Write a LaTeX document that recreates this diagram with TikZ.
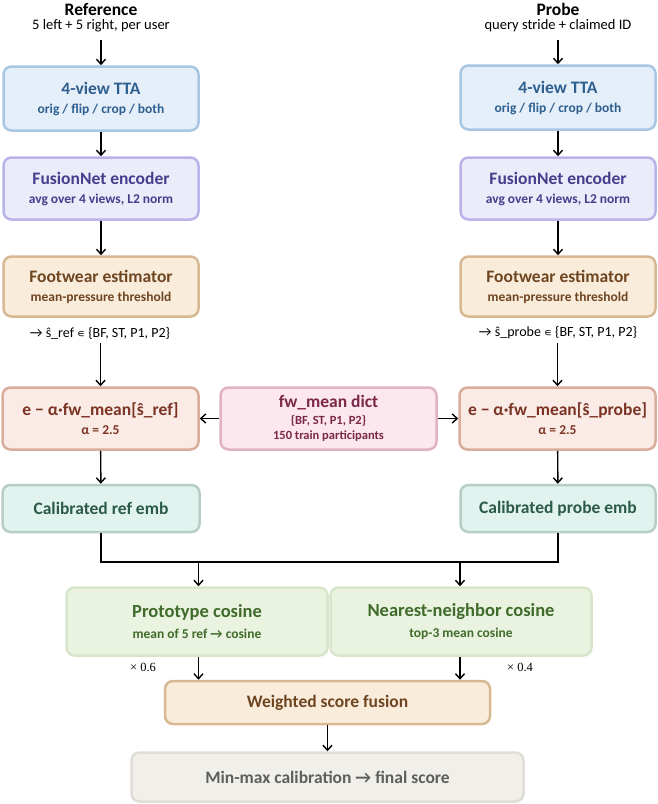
\documentclass[tikz,border=0pt]{standalone}
\usepackage{fontspec}
\setmainfont{Carlito}
\newfontfamily\symf{DejaVu Sans}
\newfontfamily\serf{Liberation Serif}
\usetikzlibrary{arrows.meta}
\definecolor{ttaF}{HTML}{E5EFFA}\definecolor{ttaD}{HTML}{A9C6E3}\definecolor{ttaT}{HTML}{2E5F8F}
\definecolor{fnF}{HTML}{ECEBFA}\definecolor{fnD}{HTML}{B8B3E8}\definecolor{fnT}{HTML}{463D8C}
\definecolor{fwF}{HTML}{FAECDA}\definecolor{fwD}{HTML}{D6B893}\definecolor{fwT}{HTML}{6E4521}
\definecolor{eaF}{HTML}{FAEBE6}\definecolor{eaD}{HTML}{D9AC9C}\definecolor{eaT}{HTML}{7B3424}
\definecolor{dmF}{HTML}{FBE7ED}\definecolor{dmD}{HTML}{E0B3C4}\definecolor{dmT}{HTML}{7B2747}
\definecolor{caF}{HTML}{E1F3EF}\definecolor{caD}{HTML}{B7CEC6}\definecolor{caT}{HTML}{2C5A48}
\definecolor{prF}{HTML}{EAF3E0}\definecolor{prD}{HTML}{D7E6CA}\definecolor{prT}{HTML}{3F6B2B}
\definecolor{mmF}{HTML}{F1EFE9}\definecolor{mmD}{HTML}{DFDDD6}\definecolor{mmT}{HTML}{5E5E5E}
\newcommand{\subf}{\fontsize{13.5}{16}\selectfont\bfseries}
\newcommand{\smf}{\fontsize{12.5}{15}\selectfont\bfseries}
\tikzset{
  box/.style={rounded corners=8pt, line width=2.5pt, align=center, inner sep=0pt,
    font=\fontsize{17.5}{19}\selectfont\bfseries},
  arr/.style={line width=1.4pt, -{Straight Barb[length=5pt,width=9pt,line width=1.4pt]}},
  ln/.style={line width=1.4pt},
  captxt/.style={font=\fontsize{14.5}{17}\selectfont, inner sep=1pt},
  ttl/.style={font=\fontsize{17.5}{19}\selectfont\bfseries, inner sep=1pt},
}
\begin{document}
\begin{tikzpicture}[x=1pt,y=-1pt]
\useasboundingbox (0,0) rectangle (658,804);
% titles
\node[ttl] (refT) at (101,9) {Reference};
\node[captxt] (refC) at (101,26) {5 left + 5 right, per user};
\node[ttl] (prbT) at (558,9) {Probe};
\node[captxt] (prbC) at (558,26) {query stride + claimed ID};
% TTA
\node[box, fill=ttaF, draw=ttaD, text=ttaT, minimum width=195pt, minimum height=64pt] (ttaL) at (101,98.5)
  {4-view TTA\\{\subf orig / flip / crop / both}};
\node[box, fill=ttaF, draw=ttaD, text=ttaT, minimum width=195pt, minimum height=64pt] (ttaR) at (558,97.5)
  {4-view TTA\\{\subf orig / flip / crop / both}};
% FusionNet
\node[box, fill=fnF, draw=fnD, text=fnT, minimum width=195pt, minimum height=62pt] (fnL) at (101,188.5)
  {FusionNet encoder\\{\subf avg over 4 views, L2 norm}};
\node[box, fill=fnF, draw=fnD, text=fnT, minimum width=195pt, minimum height=62pt] (fnR) at (558,188.5)
  {FusionNet encoder\\{\subf avg over 4 views, L2 norm}};
% Footwear
\node[box, fill=fwF, draw=fwD, text=fwT, minimum width=195pt, minimum height=60pt] (fwL) at (101,286.5)
  {Footwear estimator\\{\subf mean-pressure threshold}};
\node[box, fill=fwF, draw=fwD, text=fwT, minimum width=195pt, minimum height=60pt] (fwR) at (558,286.5)
  {Footwear estimator\\{\subf mean-pressure threshold}};
% s-hat labels
\node[captxt, font=\fontsize{14}{16}\selectfont] (sL) at (100,333) {→ ŝ\_ref {\symf\fontsize{11}{13}\selectfont ∊} \{BF, ST, P1, P2\}};
\node[captxt, font=\fontsize{14}{16}\selectfont] (sR) at (558,333) {→ ŝ\_probe {\symf\fontsize{11}{13}\selectfont ∊} \{BF, ST, P1, P2\}};
% e - alpha
\node[box, fill=eaF, draw=eaD, text=eaT, minimum width=196pt, minimum height=62pt] (eaL) at (100.5,418.5)
  {e − α·fw\_mean[ŝ\_ref]\\{\subf α = 2.5}};
\node[box, fill=eaF, draw=eaD, text=eaT, minimum width=196pt, minimum height=62pt] (eaR) at (557.5,418.5)
  {e − α·fw\_mean[ŝ\_probe]\\{\subf α = 2.5}};
\node[box, fill=dmF, draw=dmD, text=dmT, minimum width=216pt, minimum height=62pt] (dm) at (328.5,418.5)
  {fw\_mean dict\\[-2pt]{\smf \{BF, ST, P1, P2\}}\\[-4pt]{\smf 150 train participants}};
% calibrated
\node[box, fill=caF, draw=caD, text=caT, minimum width=197pt, minimum height=47pt] (caL) at (101,508.5)
  {Calibrated ref emb};
\node[box, fill=caF, draw=caD, text=caT, minimum width=195pt, minimum height=47pt] (caR) at (558,508.5)
  {Calibrated probe emb};
% cosines
\node[box, fill=prF, draw=prD, text=prT, minimum width=261pt, minimum height=68pt,
  font=\fontsize{18.5}{21}\selectfont\bfseries] (pr) at (197,621.5)
  {Prototype cosine\\{\subf mean of 5 ref → cosine}};
\node[box, fill=prF, draw=prD, text=prT, minimum width=261pt, minimum height=68pt,
  font=\fontsize{18.5}{21}\selectfont\bfseries] (nn) at (461,621.5)
  {Nearest-neighbor cosine\\{\subf top-3 mean cosine}};
% weights
\node[inner sep=1pt, font=\serf\fontsize{12.5}{14}\selectfont] (w6) at (143,667) {× 0.6};
\node[inner sep=1pt, font=\serf\fontsize{12.5}{14}\selectfont] (w4) at (520,667) {× 0.4};
% fusion
\node[box, fill=fwF, draw=fwD, text=fwT, minimum width=325pt, minimum height=43pt] (wf) at (327.5,702.5)
  {Weighted score fusion};
\node[box, fill=mmF, draw=mmD, text=mmT, minimum width=392pt, minimum height=49pt] (mm) at (327.5,777)
  {Min-max calibration → final score};
% connector anchor points
\coordinate (aL) at (101,40);
\coordinate (aR) at (558,40);
\coordinate (jL) at (101,562);
\coordinate (jR) at (558,562);
\coordinate (kL) at (198.5,562);
\coordinate (kR) at (460,562);
% arrows
\draw[arr] (aL) -- (ttaL.north);
\draw[arr] (aR) -- (ttaR.north);
\draw[arr] (ttaL) -- (fnL);
\draw[arr] (ttaR) -- (fnR);
\draw[arr] (fnL) -- (fwL);
\draw[arr] (fnR) -- (fwR);
\draw[arr] ([yshift=-3pt]sL.south -| eaL) -- (eaL);
\draw[arr] ([yshift=-3pt]sR.south -| eaR) -- (eaR);
\draw[arr] (dm) -- (eaL);
\draw[arr] (dm) -- (eaR);
\draw[arr] (eaL) -- (caL);
\draw[arr] (eaR) -- (caR);
\draw[ln] (caL.south) -- (jL) -- (jR) -- (caR.south);
\draw[arr] (kL) -- (kL |- pr.north);
\draw[arr] (kR) -- (kR |- nn.north);
\draw[arr] (kL |- pr.south) -- (kL |- wf.north);
\draw[arr] (kR |- nn.south) -- (kR |- wf.north);
\draw[arr] (wf) -- (mm);
\end{tikzpicture}
\end{document}
